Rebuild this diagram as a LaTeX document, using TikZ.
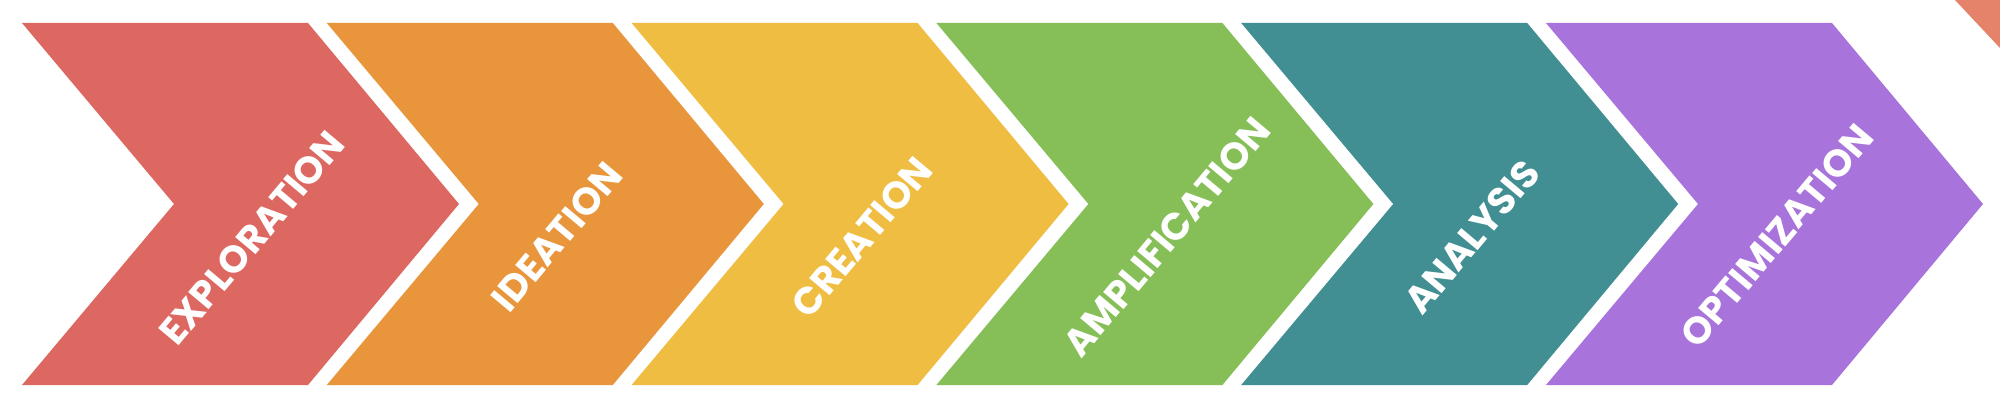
\documentclass[tikz,border=0pt]{standalone}
\usepackage{fontspec}
\setmainfont{Poppins}
\definecolor{cRed}{HTML}{DD6861}
\definecolor{cOrange}{HTML}{E8953B}
\definecolor{cYellow}{HTML}{F0BD43}
\definecolor{cGreen}{HTML}{86BF57}
\definecolor{cTeal}{HTML}{418F92}
\definecolor{cPurple}{HTML}{A873DB}
\definecolor{cSalmon}{HTML}{E5826A}
\tikzset{
  steplabel/.style={text=white, rotate=50, inner sep=0pt, font=\fontsize{38}{44}\selectfont\bfseries},
}
\newcommand{\chevronshape}[2]{%
  \fill[#2] (#1,23) -- ++(286,0) -- ++(151,181) -- ++(-151,181) -- ++(-286,0) -- ++(152,-181) -- cycle;}
\begin{document}
\begin{tikzpicture}[x=1pt,y=-1pt]
\useasboundingbox (0,0) rectangle (2000,412);
\fill[white] (0,0) rectangle (2000,412);
\chevronshape{22}{cRed}
\chevronshape{326.8}{cOrange}
\chevronshape{631.6}{cYellow}
\chevronshape{936.4}{cGreen}
\chevronshape{1241.2}{cTeal}
\chevronshape{1546}{cPurple}
\fill[cSalmon] (1955,0) -- (2000,0) -- (2000,48) -- cycle;
\node[steplabel] (t1) at (252,238) {EXPLORATION};
\node[steplabel] (t2) at (557,237) {IDEATION};
\node[steplabel] (t3) at (862,237) {CREATION};
\node[steplabel] (t4) at (1167,237) {AMPLIFICATION};
\node[steplabel] (t5) at (1472,237) {ANALYSIS};
\node[steplabel] (t6) at (1777,236) {OPTIMIZATION};
\end{tikzpicture}
\end{document}
